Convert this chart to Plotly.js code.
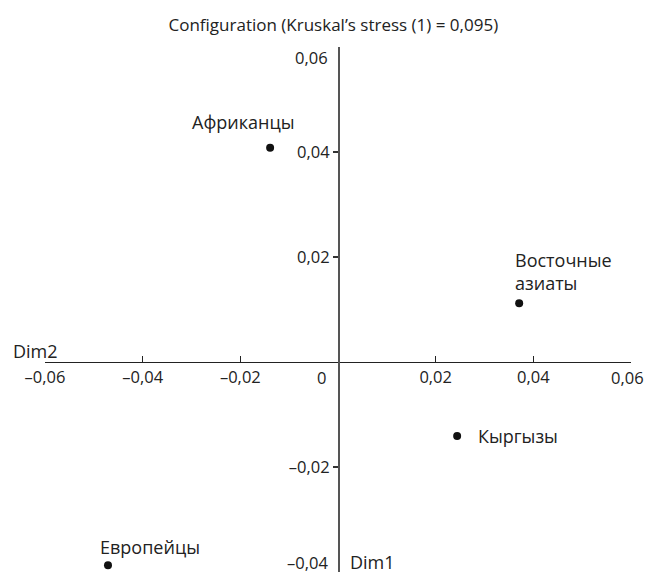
<!DOCTYPE html>
<html>
<head>
<meta charset="utf-8">
<script src="https://cdn.plot.ly/plotly-3.0.1.min.js"></script>
<style>html,body{margin:0;padding:0;background:#fff;}#chart{width:646px;height:573px;}</style>
</head>
<body>
<div id="chart"></div>
<script>
// ---- data ----
const groups = ['Африканцы', 'Восточные<br>азиаты', 'Кыргызы', 'Европейцы'];
const dimX = [-0.0139, 0.0371, 0.0244, -0.0471];
const dimY = [0.0408, 0.0112, -0.0141, -0.0387];
const xTickVals = [-0.06, -0.04, -0.02, 0.02, 0.04, 0.06];
const xTickText = ['–0,06', '–0,04', '–0,02', '0,02', '0,04', '0,06'];
const yTickVals = [-0.04, -0.02, 0.02, 0.04, 0.06];
const yTickText = ['–0,04', '–0,02', '0,02', '0,04', '0,06'];
const xRange = [-0.06, 0.06];
const yRange = [-0.04, 0.06];
const titleText = 'Configuration (Kruskal’s stress (1) = 0,095)';

// ---- styles (not data) ----
const FONT = 'Open Sans, Noto Sans, sans-serif';
const LBL = 18, TCK = 16.5;
const labelOffsets = [
  {xshift: -27, yshift: 26, xanchor: 'center'},
  {xshift: -6, yshift: 32, xanchor: 'left', align: 'left'},
  {xshift: 19, yshift: 0, xanchor: 'left'},
  {xshift: 42, yshift: 18, xanchor: 'center'}
];

const trace = {
  x: dimX, y: dimY, type: 'scatter', mode: 'markers',
  marker: {color: '#111', size: 8},
  hoverinfo: 'skip', showlegend: false, cliponaxis: false
};

const annotations = groups.map((g, i) => Object.assign({
  x: dimX[i], y: dimY[i], xref: 'x', yref: 'y', text: g, showarrow: false,
  yanchor: 'middle', font: {family: FONT, size: LBL, color: '#222'}
}, labelOffsets[i]));

// y tick labels at axis ends (shifted inward as in the reference)
const yMin = yRange[0], yMax = yRange[1];
const endIdxTop = yTickVals.indexOf(yMax), endIdxBot = yTickVals.indexOf(yMin);
annotations.push({x: 0, y: yMax, xref: 'x', yref: 'y', text: yTickText[endIdxTop], showarrow: false,
  xanchor: 'right', yanchor: 'middle', xshift: -8, yshift: -10, font: {family: FONT, size: TCK, color: '#222'}});
annotations.push({x: 0, y: yMin, xref: 'x', yref: 'y', text: yTickText[endIdxBot], showarrow: false,
  xanchor: 'right', yanchor: 'middle', xshift: -8, yshift: 10, font: {family: FONT, size: TCK, color: '#222'}});
// x tick label at right end (kept inside the page)
const xMax = xRange[1];
const xEndIdx = xTickVals.indexOf(xMax);
annotations.push({x: xMax, y: 0, xref: 'x', yref: 'y', text: xTickText[xEndIdx], showarrow: false,
  xanchor: 'right', yanchor: 'middle', xshift: 15, yshift: -15, font: {family: FONT, size: TCK, color: '#222'}});
// origin label
annotations.push({x: 0, y: 0, xref: 'x', yref: 'y', text: '0', showarrow: false,
  xanchor: 'center', yanchor: 'middle', xshift: -17, yshift: -15, font: {family: FONT, size: TCK, color: '#222'}});
// dimension labels
annotations.push({x: xRange[0], y: 0, xref: 'x', yref: 'y', text: 'Dim2', showarrow: false,
  xanchor: 'left', yanchor: 'middle', xshift: -34, yshift: 11, font: {family: FONT, size: LBL, color: '#222'}});
annotations.push({x: 0, y: yRange[0], xref: 'x', yref: 'y', text: 'Dim1', showarrow: false,
  xanchor: 'left', yanchor: 'middle', xshift: 10, yshift: 10, font: {family: FONT, size: LBL, color: '#222'}});

const keptY = yTickVals.filter(v => v !== yMin && v !== yMax);
const keptYText = keptY.map(v => yTickText[yTickVals.indexOf(v)]);
const axisXText = xTickText.map((t, i) => xTickVals[i] === xMax ? '' : t);

const layout = {
  width: 646, height: 573,
  margin: {l: 45, r: 15, t: 47, b: 1, autoexpand: false},
  paper_bgcolor: '#fff', plot_bgcolor: '#fff',
  font: {family: FONT, size: TCK, color: '#222'},
  title: {text: titleText, xref: 'container', yref: 'container', x: 0.516, y: 0.956,
          xanchor: 'center', yanchor: 'middle', font: {family: FONT, size: 17, color: '#222'}},
  xaxis: {
    range: xRange, anchor: 'free', position: 0.4,
    showgrid: false, zeroline: false, showline: true, linecolor: '#222', linewidth: 1.3,
    ticks: 'inside', ticklen: 6, tickcolor: '#222', tickwidth: 1.3,
    tickvals: xTickVals, ticktext: axisXText, tickfont: {family: FONT, size: TCK, color: '#222'},
    fixedrange: true
  },
  yaxis: {
    range: yRange, anchor: 'free', position: 0.5,
    showgrid: false, zeroline: false, showline: true, linecolor: '#555', linewidth: 1.5,
    ticks: 'outside', ticklen: 5, tickcolor: '#333', tickwidth: 1.2,
    tickvals: keptY, ticktext: keptYText, tickfont: {family: FONT, size: TCK, color: '#222'},
    fixedrange: true
  },
  annotations: annotations
};

Plotly.newPlot('chart', [trace], layout, {displayModeBar: false, staticPlot: true});
</script>
</body>
</html>
